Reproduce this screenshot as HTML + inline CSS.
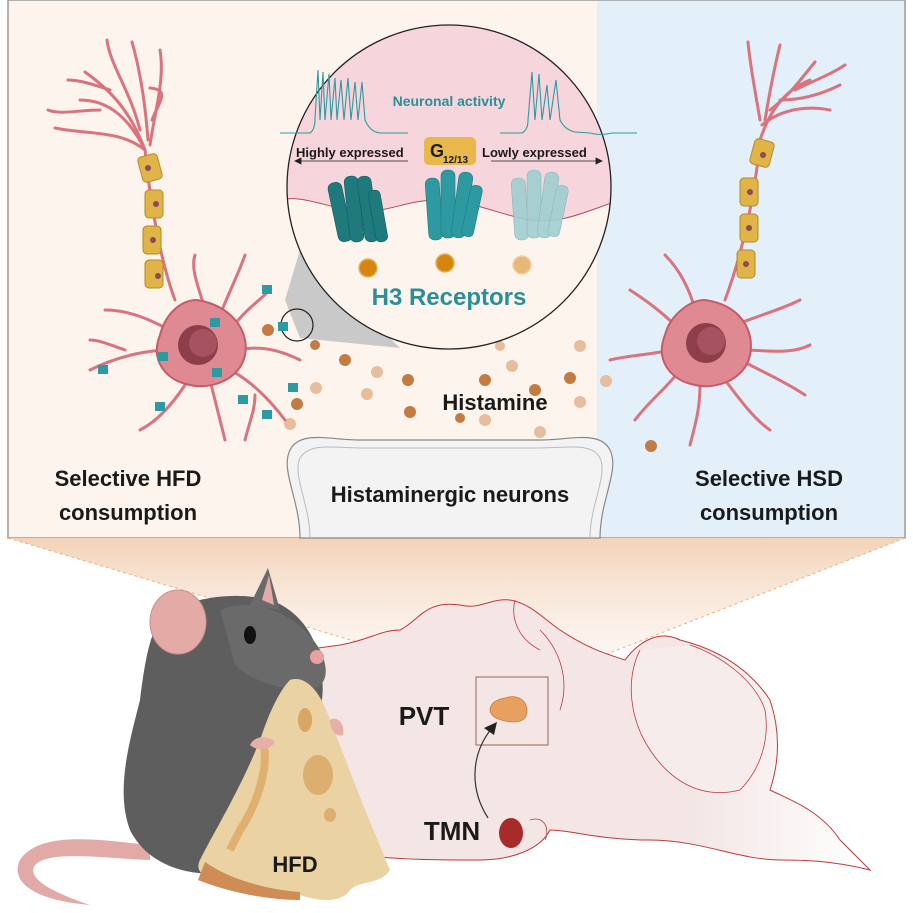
<!DOCTYPE html>
<html><head><meta charset="utf-8"><style>
html,body{margin:0;padding:0;background:#fff}
svg{display:block}
text{font-family:"Liberation Sans",Arial,sans-serif}
</style></head><body>
<svg width="913" height="913" viewBox="0 0 913 913" xmlns="http://www.w3.org/2000/svg">
<defs>
<linearGradient id="tr" x1="0" y1="0" x2="0" y2="1">
<stop offset="0" stop-color="#f3d3b8"/><stop offset="1" stop-color="#fbeee6" stop-opacity="0.3"/>
</linearGradient>
<linearGradient id="br" x1="0" y1="0" x2="1" y2="0">
<stop offset="0.75" stop-color="#f3e6e5"/><stop offset="1" stop-color="#ffffff"/>
</linearGradient>
<clipPath id="cc"><circle cx="449" cy="187" r="162"/></clipPath>
</defs>
<!-- top panel -->
<rect x="8" y="0" width="589" height="538" fill="#fdf4ee"/>
<rect x="597" y="0" width="308" height="538" fill="#e3f0fa"/>
<rect x="8" y="0" width="897" height="538" fill="none" stroke="#9a9a9a" stroke-width="1.5"/>
<!-- trapezoid -->
<path d="M8 538 L905 538 L548 677 L475 677 Z" fill="url(#tr)"/>
<path d="M8 538 L475 677 M905 538 L548 677" stroke="#f0b07a" stroke-width="1" stroke-dasharray="3 3" fill="none"/>
<!-- histaminergic bulb -->
<path d="M300 538 C300 500 280 470 290 450 C300 430 330 440 360 440 L540 440 C570 440 600 430 610 450 C620 470 600 500 600 538 Z" fill="#f3f3f3" stroke="#888" stroke-width="1.2"/>
<path d="M310 538 C310 505 292 475 300 458 C310 442 335 448 360 448 L540 448 C565 448 592 442 600 458 C608 475 590 505 590 538" fill="none" stroke="#bbb" stroke-width="1"/>
<text x="450" y="502" font-size="22" font-weight="bold" text-anchor="middle" fill="#1a1a1a">Histaminergic neurons</text>
<!-- zoom cone -->
<path d="M285 300 L300 250 L400 348 L300 338 Z" fill="#c9c9c9"/>
<!-- histamine dots -->
<g fill="#c27b43">
<circle cx="268" cy="330" r="6"/><circle cx="315" cy="345" r="5"/><circle cx="345" cy="360" r="6"/><circle cx="297" cy="404" r="6"/><circle cx="408" cy="380" r="6"/><circle cx="455" cy="336" r="6"/><circle cx="485" cy="380" r="6"/><circle cx="535" cy="390" r="6"/><circle cx="570" cy="378" r="6"/><circle cx="410" cy="412" r="6"/><circle cx="460" cy="418" r="5"/><circle cx="651" cy="446" r="6"/>
</g>
<g fill="#e8bd9c">
<circle cx="423" cy="322" r="7"/><circle cx="500" cy="346" r="5"/><circle cx="580" cy="346" r="6"/><circle cx="316" cy="388" r="6"/><circle cx="377" cy="372" r="6"/><circle cx="367" cy="394" r="6"/><circle cx="290" cy="424" r="6"/><circle cx="512" cy="366" r="6"/><circle cx="485" cy="420" r="6"/><circle cx="540" cy="432" r="6"/><circle cx="580" cy="402" r="6"/><circle cx="606" cy="381" r="6"/>
</g>
<text x="495" y="410" font-size="22" font-weight="bold" text-anchor="middle" fill="#1a1a1a">Histamine</text>
<!-- big circle -->
<g clip-path="url(#cc)">
<rect x="280" y="20" width="340" height="340" fill="#fdf4ee"/>
<path d="M280 20 L620 20 L620 200 C590 210 560 225 530 220 C500 215 470 200 440 200 C400 200 390 215 350 210 C320 205 300 195 280 200 Z" fill="#f7d5dc"/>
<path d="M280 200 C300 195 320 205 350 210 C390 215 400 200 440 200 C470 200 500 215 530 220 C560 225 590 210 620 200" fill="none" stroke="#b74a5c" stroke-width="1"/>
</g>
<circle cx="449" cy="187" r="162" fill="none" stroke="#222" stroke-width="1.3"/>
<!-- spikes -->
<g fill="none" stroke="#2d9aa0" stroke-width="1.1">
<path d="M280 133 L310 133 Q315 130 315 118 L318 70 L320 120 L323 72 L325 120 L329 74 L331 120 L335 78 L337 120 L341 80 L344 120 L348 78 L351 120 L355 82 L358 120 L362 82 L365 120 Q370 132 380 133 L408 133"/>
<path d="M500 133 L522 133 Q528 130 528 120 L532 72 L535 120 L539 74 L542 120 L547 85 L550 120 L556 80 L560 120 Q565 130 575 132 L590 133 Q600 136 612 133 L637 133"/>
</g>
<text x="449" y="106" font-size="14" font-weight="bold" text-anchor="middle" fill="#2a8f96">Neuronal activity</text>
<text x="296" y="157" font-size="13" font-weight="bold" fill="#1a1a1a">Highly expressed</text>
<text x="482" y="157" font-size="13" font-weight="bold" fill="#1a1a1a">Lowly expressed</text>
<path d="M295 161 L408 161 M295 161 l6 -3 v6 z M491 161 L602 161 M602 161 l-6 -3 v6 z" stroke="#222" stroke-width="0.8" fill="#222"/>
<rect x="424" y="137" width="52" height="28" rx="5" fill="#e8b84a"/>
<text x="430" y="157" font-size="18" font-weight="bold" fill="#1a1a1a">G</text>
<text x="443" y="163" font-size="10" font-weight="bold" fill="#1a1a1a">12/13</text>
<!-- receptors -->
<g>
<g fill="#1e7a7d" stroke="#145c5e" stroke-width="0.6">
<rect x="333" y="182" width="14" height="60" rx="6" transform="rotate(-12 340 212)"/>
<rect x="347" y="176" width="14" height="66" rx="6" transform="rotate(-6 354 209)"/>
<rect x="361" y="176" width="14" height="66" rx="6" transform="rotate(-8 368 209)"/>
<rect x="372" y="190" width="12" height="52" rx="5" transform="rotate(-10 378 216)"/>
</g>
<circle cx="368" cy="268" r="9" fill="#d4860e" stroke="#e7b15a" stroke-width="1.5"/>
<g fill="#2d9aa2" stroke="#1c7a80" stroke-width="0.6">
<rect x="427" y="178" width="14" height="62" rx="6" transform="rotate(-4 434 209)"/>
<rect x="441" y="170" width="14" height="68" rx="6"/>
<rect x="455" y="172" width="14" height="66" rx="6" transform="rotate(8 462 205)"/>
<rect x="466" y="185" width="12" height="52" rx="5" transform="rotate(12 472 211)"/>
</g>
<circle cx="445" cy="263" r="9" fill="#d4860e" stroke="#e7b15a" stroke-width="1.5"/>
<g fill="#9fcfd1" stroke="#7fb4b7" stroke-width="0.6" opacity="0.9">
<rect x="513" y="178" width="14" height="62" rx="6" transform="rotate(-4 520 209)"/>
<rect x="527" y="170" width="14" height="68" rx="6"/>
<rect x="541" y="172" width="14" height="66" rx="6" transform="rotate(8 548 205)"/>
<rect x="552" y="185" width="12" height="52" rx="5" transform="rotate(12 558 211)"/>
</g>
<circle cx="522" cy="265" r="9" fill="#e8b878" stroke="#f2d3a4" stroke-width="1.5"/>
</g>
<text x="449" y="305" font-size="24" font-weight="bold" text-anchor="middle" fill="#2a8f96">H3 Receptors</text>
<circle cx="297" cy="325" r="16" fill="none" stroke="#222" stroke-width="1.2"/>
<!-- left neuron -->
<g stroke="#d9737e" stroke-width="3" fill="none" stroke-linecap="round">
<path d="M175 300 C160 260 150 200 145 150 C130 120 110 100 80 100"/>
<path d="M145 150 C120 130 90 135 55 128"/><path d="M145 150 C130 110 110 90 85 72"/><path d="M140 130 C130 90 110 65 107 40"/>
<path d="M148 140 C145 100 140 70 132 42"/><path d="M150 145 C155 110 165 80 160 50"/><path d="M152 120 C160 100 170 90 150 88"/>
<path d="M100 110 C80 110 60 115 48 110"/><path d="M110 90 C95 85 80 80 68 80"/>
<path d="M230 330 C245 310 260 300 270 290"/><path d="M240 350 C260 345 280 350 300 360"/><path d="M230 370 C250 380 270 400 285 420"/>
<path d="M210 380 C215 400 220 420 225 440"/><path d="M185 385 C175 400 160 420 140 430"/><path d="M170 350 C150 350 120 355 90 370"/>
<path d="M170 330 C150 320 130 310 105 310"/><path d="M205 310 C200 290 190 270 195 255"/><path d="M220 315 C230 290 240 270 245 255"/>
<path d="M255 395 C255 410 250 420 245 440"/><path d="M125 350 C110 345 100 340 90 340"/>
</g>
<path d="M197 300 C230 305 250 330 245 355 C240 380 210 390 190 385 C165 380 150 360 160 335 C165 315 180 300 197 300 Z" fill="#df8a92" stroke="#c85a66" stroke-width="2"/>
<circle cx="198" cy="345" r="20" fill="#8e3d4a"/><circle cx="203" cy="343" r="14" fill="#a75260"/>
<g fill="#e0b446" stroke="#b38a2a" stroke-width="1">
<rect x="140" y="155" width="20" height="26" rx="4" transform="rotate(-15 150 168)"/>
<rect x="145" y="190" width="18" height="28" rx="4"/>
<rect x="143" y="226" width="18" height="28" rx="4"/>
<rect x="145" y="260" width="18" height="28" rx="4"/>
</g>
<g fill="#8e4a56"><circle cx="148" cy="168" r="3"/><circle cx="156" cy="204" r="3"/><circle cx="153" cy="240" r="3"/><circle cx="158" cy="276" r="3"/></g>
<g fill="#2c9aa3">
<rect x="210" y="318" width="10" height="9"/><rect x="158" y="352" width="10" height="9"/><rect x="212" y="368" width="10" height="9"/><rect x="98" y="365" width="10" height="9"/><rect x="155" y="402" width="10" height="9"/><rect x="238" y="395" width="10" height="9"/><rect x="262" y="285" width="10" height="9"/><rect x="288" y="383" width="10" height="9"/><rect x="262" y="410" width="10" height="9"/><rect x="278" y="322" width="10" height="9"/>
</g>
<!-- right neuron -->
<g stroke="#d9737e" stroke-width="3" fill="none" stroke-linecap="round">
<path d="M725 300 C740 260 755 200 760 140 C770 110 785 90 810 80"/>
<path d="M762 125 C780 110 805 105 830 110"/><path d="M765 120 C770 90 775 65 780 45"/><path d="M760 120 C755 90 750 65 748 42"/>
<path d="M770 110 C790 95 800 80 815 62"/><path d="M780 100 C800 100 820 95 840 85"/><path d="M795 90 C815 80 830 75 845 65"/>
<path d="M680 330 C660 310 645 300 630 290"/><path d="M670 350 C650 355 630 355 610 360"/><path d="M680 370 C665 390 650 400 635 420"/>
<path d="M700 385 C700 410 695 425 690 445"/><path d="M725 380 C740 400 755 420 770 430"/><path d="M740 350 C770 350 790 355 810 345"/>
<path d="M735 325 C760 315 780 310 800 300"/><path d="M695 310 C690 290 680 270 665 255"/><path d="M740 360 C770 375 790 385 805 395"/>
</g>
<path d="M705 300 C740 305 755 330 750 355 C745 380 715 390 695 385 C670 380 655 360 665 335 C670 315 690 300 705 300 Z" fill="#df8a92" stroke="#c85a66" stroke-width="2"/>
<circle cx="706" cy="343" r="20" fill="#8e3d4a"/><circle cx="711" cy="341" r="14" fill="#a75260"/>
<g fill="#e0b446" stroke="#b38a2a" stroke-width="1">
<rect x="752" y="140" width="20" height="26" rx="4" transform="rotate(15 762 153)"/>
<rect x="740" y="178" width="18" height="28" rx="4"/>
<rect x="740" y="214" width="18" height="28" rx="4"/>
<rect x="737" y="250" width="18" height="28" rx="4"/>
</g>
<g fill="#8e4a56"><circle cx="763" cy="155" r="3"/><circle cx="750" cy="192" r="3"/><circle cx="749" cy="228" r="3"/><circle cx="746" cy="264" r="3"/></g>
<!-- side labels -->
<text x="128" y="486" font-size="22" font-weight="bold" text-anchor="middle" fill="#1a1a1a">Selective HFD</text>
<text x="128" y="520" font-size="22" font-weight="bold" text-anchor="middle" fill="#1a1a1a">consumption</text>
<text x="769" y="486" font-size="22" font-weight="bold" text-anchor="middle" fill="#1a1a1a">Selective HSD</text>
<text x="769" y="520" font-size="22" font-weight="bold" text-anchor="middle" fill="#1a1a1a">consumption</text>
<!-- brain -->
<path d="M150 680 C160 650 200 640 230 660 L340 645 C370 640 380 630 400 630 C420 620 425 600 460 605 C480 610 490 598 510 600 C530 603 545 620 560 630 C590 650 610 655 625 660 C640 640 660 630 680 640 C720 650 750 670 770 700 C780 730 780 760 770 790 C790 800 820 810 840 840 L870 870 C830 860 800 860 780 860 C740 860 700 840 650 840 C600 840 570 830 550 830 C540 850 510 860 480 860 C440 860 400 860 360 855 L300 820 L150 760 Z" fill="url(#br)" stroke="#c0393b" stroke-width="1"/>
<path d="M640 650 C625 680 630 720 650 750 C670 780 700 800 740 790 C760 770 770 740 765 710 C755 680 720 655 690 645" fill="#f6ecec" stroke="#c0393b" stroke-width="0.8"/>
<path d="M540 630 C560 650 570 680 560 710 M515 600 C510 620 520 640 540 650" fill="none" stroke="#c0393b" stroke-width="0.8"/>
<path d="M530 820 C545 815 550 830 545 840" fill="none" stroke="#c0393b" stroke-width="0.8"/>
<!-- PVT box -->
<rect x="476" y="677" width="72" height="68" fill="none" stroke="#9a6a50" stroke-width="1"/>
<path d="M505 698 C520 693 530 703 526 716 C522 725 505 722 496 718 C485 712 490 700 505 698 Z" fill="#e8a060" stroke="#c57a3a" stroke-width="0.8"/>
<path d="M488 818 C470 790 470 755 492 728" fill="none" stroke="#333" stroke-width="1.2"/>
<path d="M497 722 L484 728 L494 735 Z" fill="#222"/>
<text x="424" y="725" font-size="26" font-weight="bold" text-anchor="middle" fill="#1a1a1a">PVT</text>
<text x="452" y="840" font-size="26" font-weight="bold" text-anchor="middle" fill="#1a1a1a">TMN</text>
<ellipse cx="511" cy="833" rx="12" ry="15" fill="#a82a2a"/>
<!-- mouse tail -->
<path d="M150 845 C100 840 40 830 20 860 C10 880 30 900 90 905 C60 895 25 880 35 865 C50 850 100 858 150 860 Z" fill="#e2aaa6"/>
<!-- mouse body -->
<path d="M165 612 C190 600 230 590 270 600 C300 610 320 640 320 670 C330 700 310 740 300 780 C290 820 270 860 240 870 C200 880 150 870 130 830 C115 790 130 740 140 700 C145 660 150 630 165 612 Z" fill="#5e5e5e"/>
<path d="M220 610 C255 595 300 615 320 650 C330 670 328 690 305 690 C280 690 250 680 235 665 Z" fill="#6a6a6a"/>
<ellipse cx="178" cy="622" rx="28" ry="32" fill="#e3aaa6" stroke="#c9918e" stroke-width="1"/>
<path d="M250 605 L268 568 L280 610 Z" fill="#6a6a6a"/>
<path d="M262 600 L269 575 L274 605 Z" fill="#e3aaa6"/>
<ellipse cx="250" cy="635" rx="6" ry="9" fill="#111"/>
<circle cx="317" cy="657" r="7" fill="#e7a1a0"/>
<!-- cheese -->
<path d="M290 680 C305 675 320 690 330 720 L365 810 L390 870 C380 885 360 880 350 890 C340 905 315 900 300 895 C280 895 250 890 235 885 C200 880 195 870 200 860 C215 830 240 790 260 740 C270 710 280 690 290 680 Z" fill="#ebd2a2"/>
<path d="M205 862 C230 880 270 890 300 892 L300 900 C270 900 230 893 198 880 Z" fill="#d08c55"/>
<ellipse cx="305" cy="720" rx="7" ry="12" fill="#d9a764"/>
<ellipse cx="318" cy="775" rx="15" ry="20" fill="#dcae70"/>
<ellipse cx="330" cy="815" rx="6" ry="7" fill="#dcae70"/>
<path d="M262 740 C270 760 260 800 240 830 L230 850" fill="none" stroke="#e0b070" stroke-width="8"/>
<path d="M250 745 C255 735 268 735 275 742 C270 750 258 752 250 745 Z" fill="#e6b0a8"/>
<path d="M330 720 C338 715 345 725 343 735 C336 738 330 730 330 720 Z" fill="#e6b0a8"/>
<text x="295" y="872" font-size="22" font-weight="bold" text-anchor="middle" fill="#1a1a1a">HFD</text>
</svg>
</body></html>
